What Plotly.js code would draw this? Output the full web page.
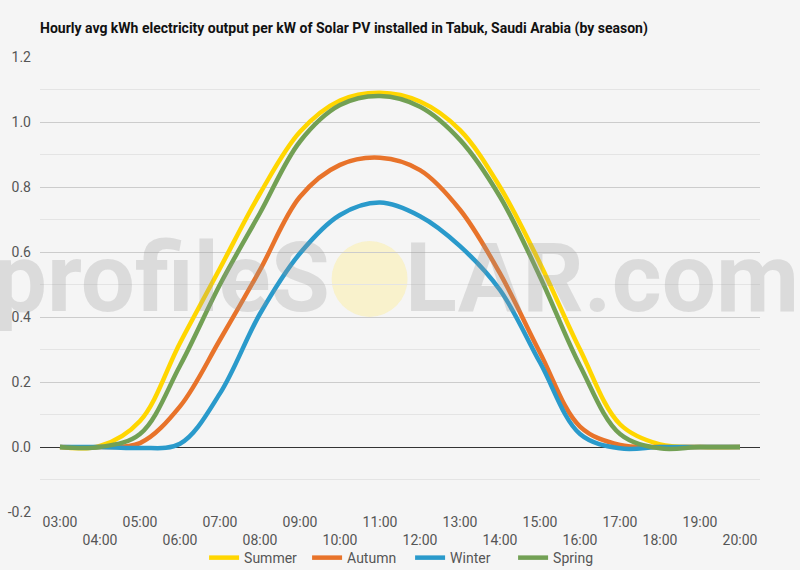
<!DOCTYPE html>
<html>
<head>
<meta charset="utf-8">
<script src="https://cdn.plot.ly/plotly-3.0.1.min.js"></script>
<style>
    html, body { margin: 0; padding: 0; background: #f5f5f5; }
    #chart { width: 800px; height: 570px; }
</style>
</head>
<body>
<div id="chart"></div>
<script>
var hours = ["03:00", "04:00", "05:00", "06:00", "07:00", "08:00", "09:00", "10:00", "11:00",
             "12:00", "13:00", "14:00", "15:00", "16:00", "17:00", "18:00", "19:00", "20:00"];

var summer = [0, 0.003, 0.08, 0.32, 0.55, 0.78, 0.97, 1.066, 1.09, 1.063, 0.975, 0.80, 0.565, 0.30, 0.07, 0.008, 0, 0];
var autumn = [0, 0, 0.012, 0.125, 0.33, 0.545, 0.77, 0.868, 0.89, 0.852, 0.73, 0.534, 0.29, 0.063, 0.006, 0, 0, 0];
var winter = [0, 0, -0.003, 0.01, 0.165, 0.41, 0.596, 0.714, 0.752, 0.71, 0.618, 0.483, 0.26, 0.04, -0.004, 0, 0, 0];
var spring = [0, 0, 0.04, 0.25, 0.50, 0.72, 0.94, 1.052, 1.08, 1.047, 0.945, 0.77, 0.524, 0.25, 0.04, -0.004, 0, 0];

var seriesNames = ["Summer", "Autumn", "Winter", "Spring"];
var seriesColors = ["#FFD600", "#E8732A", "#2A9ACB", "#72A054"];

var seriesValues = [summer, autumn, winter, spring];

var yTickValues = [-0.2, 0, 0.2, 0.4, 0.6, 0.8, 1.0, 1.2];
var yTickLabels = ["-0.2", "0.0", "0.2", "0.4", "0.6", "0.8", "1.0", "1.2"];

// staggered tick labels: every other hour goes on a second row
var tickLabels = hours.map((h, i) => i % 2 ? "<br>" + h : h);

var plotData = seriesValues.map((values, i) =>
{
    return {
        x: hours,
        y: values,
        name: seriesNames[i],
        type: "scatter",
        mode: "lines",
        line: { color: seriesColors[i], width: 4.5, shape: "spline", smoothing: 1 }
    };
});

var watermarkFont = { family: "Roboto, sans-serif", size: 96, color: "rgba(150,150,150,0.27)", weight: 700 };

var layout =
{
    width: 800,
    height: 570,
    paper_bgcolor: "#f5f5f5",
    plot_bgcolor: "#f5f5f5",
    font: { family: "Roboto, sans-serif", size: 14, color: "#555" },
    margin: { l: 40, r: 40, t: 57, b: 58, autoexpand: false },
    title:
    {
        text: "<b>Hourly avg kWh electricity output per kW of Solar PV installed in Tabuk, Saudi Arabia (by season)</b>",
        x: 0.05, xanchor: "left", y: 0.951, yanchor: "middle",
        font: { family: "Roboto, sans-serif", size: 14, color: "#111" }
    },
    xaxis:
    {
        type: "category",
        range: [-0.5, 17.5],
        automargin: false,
        showgrid: false,
        showline: false,
        zeroline: false,
        tickmode: "array",
        tickvals: hours,
        ticktext: tickLabels,
        ticks: "",
        tickfont: { size: 14, color: "#555" }
    },
    yaxis:
    {
        range: [-0.2, 1.2],
        automargin: false,
        tickmode: "array",
        tickvals: yTickValues,
        ticktext: yTickLabels,
        showgrid: true,
        gridcolor: "#cccccc",
        gridwidth: 1,
        minor: { dtick: 0.1, showgrid: true, gridcolor: "#e4e4e4", gridwidth: 1 },
        zeroline: true,
        zerolinecolor: "#333",
        zerolinewidth: 1,
        ticks: "",
        ticklabelstandoff: 8,
        tickfont: { size: 14, color: "#555" }
    },
    legend:
    {
        orientation: "h",
        x: 0.514, xanchor: "center",
        y: -0.066, yanchor: "top",
        bgcolor: "rgba(0,0,0,0)",
        font: { size: 14, color: "#555" },
        entrywidth: 58,
        entrywidthmode: "pixels"
    },
    shapes:
    [
        {
            type: "circle", xref: "paper", yref: "paper", layer: "below",
            x0: 0.405, x1: 0.5105, y0: 0.4286, y1: 0.5956,
            fillcolor: "rgba(252, 238, 170, 0.55)", line: { width: 0 }
        }
    ],
    annotations:
    [
        {
            text: "profileS", xref: "paper", yref: "paper", x: 0.405, y: 0.515,
            xanchor: "right", yanchor: "middle", showarrow: false,
            font: watermarkFont
        },
        {
            text: "LAR.com", xref: "paper", yref: "paper", x: 0.504, y: 0.515,
            xanchor: "left", yanchor: "middle", showarrow: false,
            font: watermarkFont
        }
    ],
    showlegend: true,
    hovermode: false
};

Plotly.newPlot("chart", plotData, layout, { displayModeBar: false, staticPlot: true });
</script>
</body>
</html>
